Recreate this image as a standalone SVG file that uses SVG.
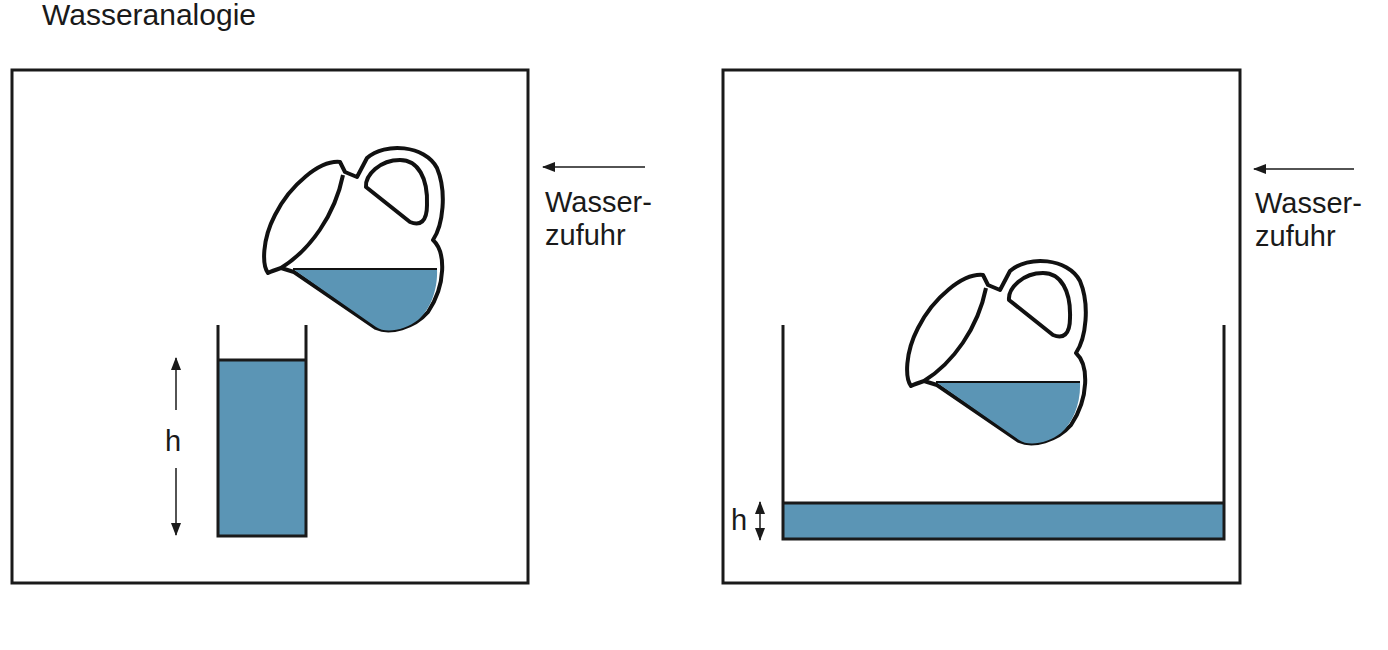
<svg xmlns="http://www.w3.org/2000/svg" width="1388" height="650" viewBox="0 0 1388 650">
<style>
.t{font-family:"Liberation Sans",Arial,sans-serif;font-size:29px;fill:#1a1a1a}
.b{fill:none;stroke:#1a1a1a;stroke-width:3}
.w{fill:#5b95b5}
.j{fill:#fff;stroke:#111;stroke-width:4;stroke-linejoin:round}
.a{stroke:#1a1a1a;stroke-width:1.5;fill:none}
</style>
<defs>
<marker id="ah" markerWidth="13" markerHeight="10" refX="12" refY="5" orient="auto" markerUnits="userSpaceOnUse"><path d="M0,0L13,5L0,10z" fill="#1a1a1a"/></marker>
<g id="jug">
<path class="j" d="M345,172 L357,177 L367,158 C385,142 425,145 437,168 C447,192 443,225 433,240 C446,252 446,285 428,312 C414,328 390,334 376,328 L294,272 L281,268 C275,270 270,272 268,273 C262,265 262,240 275,215 C290,185 320,160 340,162 Z"/>
<path class="j" d="M281,268 C310,250 335,215 343,175"/>
<path class="j" d="M366,187 C365,175 380,160 400,160 C418,160 428,178 427,205 C427,222 420,226 410,222 Z"/>
<path class="w" d="M293,269 L437,269 C438,290 430,310 418,320 C405,330 386,334 376,327 Z"/>
<path d="M293,269 L437,269" stroke="#111" stroke-width="2"/>
</g>
</defs>
<text class="t" x="42" y="25" style="font-size:30px">Wasseranalogie</text>
<g id="box-left">
<rect class="b" x="12" y="70" width="516" height="513"/>
<use href="#jug"/>
<rect class="w" x="218" y="360" width="88" height="176"/>
<path class="b" d="M218,325V536H306V325M218,360H306"/>
<path class="a" d="M176,410V358" marker-end="url(#ah)"/>
<path class="a" d="M176,468V535" marker-end="url(#ah)"/>
<text class="t" x="165" y="451">h</text>
</g>
<g id="box-right">
<rect class="b" x="723" y="70" width="517" height="513"/>
<use href="#jug" transform="translate(643,113)"/>
<rect class="w" x="783" y="503" width="441" height="36"/>
<path class="b" d="M783,325V539H1224V325M783,503H1224"/>
<path class="a" d="M760,520V502" marker-end="url(#ah)"/>
<path class="a" d="M760,520V540" marker-end="url(#ah)"/>
<text class="t" x="731" y="530">h</text>
</g>
<g id="connectors">
<path class="a" d="M645,167H543" marker-end="url(#ah)"/>
<path class="a" d="M1354,169H1254" marker-end="url(#ah)"/>
</g>
<g id="label-left"><text class="t" x="545" y="212">Wasser-</text><text class="t" x="545" y="245">zufuhr</text></g>
<g id="label-right"><text class="t" x="1255" y="213">Wasser-</text><text class="t" x="1255" y="246">zufuhr</text></g>
</svg>
